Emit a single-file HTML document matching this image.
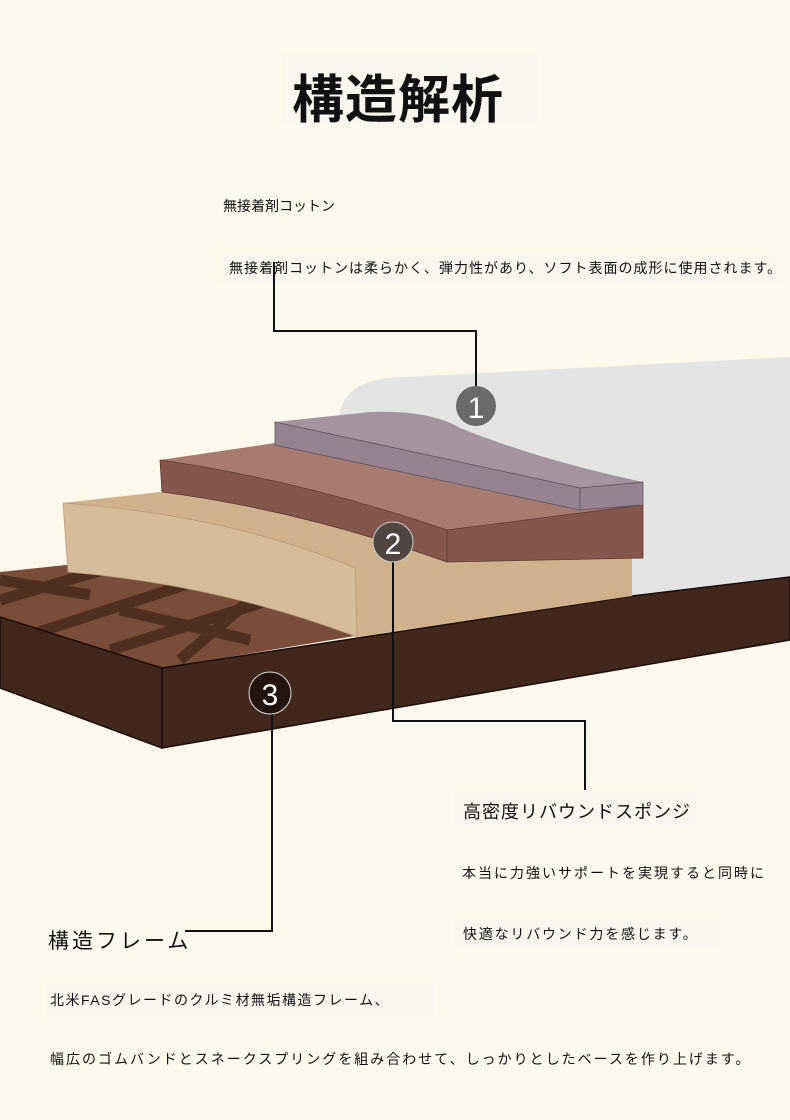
<!DOCTYPE html>
<html><head><meta charset="utf-8"><style>
body{margin:0;width:790px;height:1120px;background:#fcf8ec;position:relative;overflow:hidden;font-family:"Liberation Sans","Noto Sans CJK JP",sans-serif;color:#111}
.t{position:absolute;white-space:nowrap}
</style></head><body>
<div class="t" style="left:282px;top:52px;width:256px;height:72px;background:#faf6ee"></div>
<div class="t" style="left:292px;top:58px;font-size:52px;font-weight:bold;letter-spacing:1px">構造解析</div>
<div class="t" style="left:223px;top:196px;font-size:14px">無接着剤コットン</div>
<div class="t" style="left:220px;top:250px;width:560px;height:34px;background:#faf6ee"></div>
<div class="t" style="left:229px;top:258px;font-size:14px;letter-spacing:1px">無接着剤コットンは柔らかく、弾力性があり、ソフト表面の成形に使用されます。</div>
<svg width="790" height="1120" style="position:absolute;left:0;top:0">
<path d="M340,412 Q345,385 385,378 L790,357 L790,578 L632,596 L350,600 L338,470 Z" fill="#e4e4e4"/>
<polygon points="0,572 150,556 355,636 162,668 0,617" fill="#7a4d3b"/>
<g stroke="#4f2d20" stroke-width="11">
<line x1="0" y1="600" x2="120" y2="565"/><line x1="30" y1="635" x2="200" y2="580"/>
<line x1="110" y1="650" x2="270" y2="600"/><line x1="120" y1="610" x2="250" y2="640"/>
<line x1="180" y1="660" x2="250" y2="600"/><line x1="0" y1="580" x2="90" y2="595"/>
</g>
<polygon points="162,668 632,596 790,577 790,640 162,748" fill="#42271c" stroke="#1a0e09" stroke-width="1.5"/>
<polygon points="0,617 162,668 162,748 0,688" fill="#42271c" stroke="#1a0e09" stroke-width="1.5"/>
<path d="M63,503 L160,492 Q300,505 440,556 L632,538 L632,596 L357,637 Q220,585 68,572 Z" fill="#d0b18c"/>
<path d="M63,503 Q230,515 355,568 L357,637 Q220,585 68,572 Z" fill="#d6bc99" stroke="#b8997a" stroke-width="0.8"/>
<path d="M160,460 L275,443 L580,488 L643,482 L643,505 L447,530 Q300,480 160,460 Z" fill="#a87b70"/>
<path d="M160,460 Q300,480 447,530 L447,562 Q300,510 162,492 Z" fill="#85564d" stroke="#5a3a33" stroke-width="0.8"/>
<polygon points="447,530 643,505 643,558 447,562" fill="#85564d" stroke="#5a3a33" stroke-width="0.8"/>
<path d="M275,422 L370,412 Q430,410 460,428 Q540,460 643,482 L580,488 Z" fill="#a5949f"/>
<polygon points="275,422 580,488 580,510 275,445" fill="#968391" stroke="#5e4f5a" stroke-width="0.8"/>
<polygon points="580,488 643,482 643,505 580,510" fill="#968391" stroke="#5e4f5a" stroke-width="0.8"/>
<g stroke="#111" stroke-width="2" fill="none">
<polyline points="274,262 274,331 476,331 476,386"/>
<polyline points="393,562 393,721 585,721 585,797"/>
<polyline points="272,713 272,931 185,931"/>
</g>
<circle cx="476" cy="406" r="20" fill="#6a6a6a"/>
<text x="476" y="418" font-size="30" fill="#fff" text-anchor="middle" font-family="Liberation Sans,sans-serif">1</text>
<circle cx="393" cy="542" r="20" fill="#4e4440" stroke="#ccc" stroke-width="1"/>
<text x="393" y="554" font-size="30" fill="#fff" text-anchor="middle" font-family="Liberation Sans,sans-serif">2</text>
<circle cx="270" cy="693" r="21" fill="#24140e" stroke="#ddd" stroke-width="1"/>
<text x="270" y="705" font-size="30" fill="#fff" text-anchor="middle" font-family="Liberation Sans,sans-serif">3</text>
</svg>
<div class="t" style="left:455px;top:790px;width:245px;height:36px;background:#faf6ee"></div>
<div class="t" style="left:463px;top:798px;font-size:18px;letter-spacing:1px">高密度リバウンドスポンジ</div>
<div class="t" style="left:462px;top:863px;font-size:14px;letter-spacing:2px">本当に力強いサポートを実現すると同時に</div>
<div class="t" style="left:455px;top:918px;width:265px;height:30px;background:#faf6ee"></div>
<div class="t" style="left:463px;top:924px;font-size:14px;letter-spacing:1.8px">快適なリバウンド力を感じます。</div>
<div class="t" style="left:48px;top:925px;font-size:21px;letter-spacing:3px">構造フレーム</div>
<div class="t" style="left:45px;top:978px;width:390px;height:38px;background:#faf6ee"></div>
<div class="t" style="left:50px;top:990px;font-size:14px;letter-spacing:1.5px">北米FASグレードのクルミ材無垢構造フレーム、</div>
<div class="t" style="left:50px;top:1049px;font-size:14px;letter-spacing:2px">幅広のゴムバンドとスネークスプリングを組み合わせて、しっかりとしたベースを作り上げます。</div>
</body></html>
